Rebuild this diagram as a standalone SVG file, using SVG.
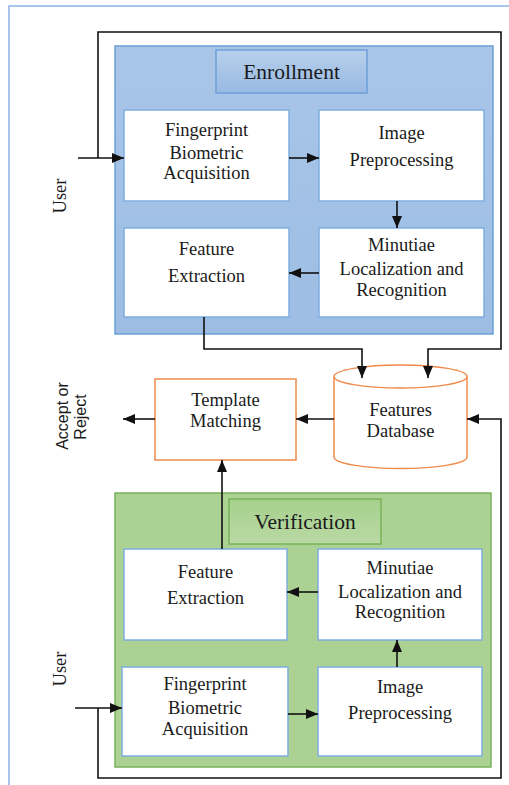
<svg xmlns="http://www.w3.org/2000/svg" width="509" height="785" viewBox="0 0 509 785">
<defs>
<linearGradient id="gBlueTitle" x1="0" y1="0" x2="0" y2="1"><stop offset="0" stop-color="#b7d0ec"/><stop offset="1" stop-color="#98b9e3"/></linearGradient>
<linearGradient id="gGreenTitle" x1="0" y1="0" x2="0" y2="1"><stop offset="0" stop-color="#a6cf8c"/><stop offset="1" stop-color="#b9daa5"/></linearGradient>
<linearGradient id="gBlue" x1="0" y1="0" x2="0" y2="1"><stop offset="0" stop-color="#a9c6e8"/><stop offset="1" stop-color="#9dbde4"/></linearGradient>
<marker id="ah" viewBox="0 0 12 12" refX="12" refY="6" markerWidth="12" markerHeight="12" markerUnits="userSpaceOnUse" orient="auto">
<path d="M0,1 L12,6 L0,11 Z" fill="#111"/>
</marker>
</defs>
<rect x="0" y="0" width="509" height="785" fill="#fff"/>
<rect x="9" y="6" width="520" height="800" fill="none" stroke="#8db3e2" stroke-width="1.5"/>

<g id="enrollment">
<rect x="115" y="46" width="378" height="288" fill="url(#gBlue)" stroke="#6d9fd8" stroke-width="1.5"/>
<rect x="216" y="50" width="151" height="43" fill="url(#gBlueTitle)" stroke="#6d9fd8" stroke-width="1.5"/>
<text x="291.5" y="79" style="font-family:'Liberation Serif',serif;font-size:21.5px" fill="#1a1a1a" text-anchor="middle">Enrollment</text>
</g>
<g id="e-acq" fill="#1a1a1a" text-anchor="middle">
<rect x="124" y="110" width="165" height="91" fill="#fff" stroke="#7eaee0" stroke-width="1.5"/>
<text x="206.5" y="136" style="font-family:'Liberation Serif',serif;font-size:18.5px">Fingerprint</text>
<text x="206.5" y="159" style="font-family:'Liberation Serif',serif;font-size:18.5px">Biometric</text>
<text x="206.5" y="179" style="font-family:'Liberation Serif',serif;font-size:18.5px">Acquisition</text>
</g>
<g id="e-pre" fill="#1a1a1a" text-anchor="middle">
<rect x="319" y="110" width="165" height="91" fill="#fff" stroke="#7eaee0" stroke-width="1.5"/>
<text x="401.5" y="139" style="font-family:'Liberation Serif',serif;font-size:18.5px">Image</text>
<text x="401.5" y="166" style="font-family:'Liberation Serif',serif;font-size:18.5px">Preprocessing</text>
</g>
<g id="e-feat" fill="#1a1a1a" text-anchor="middle">
<rect x="124" y="228" width="165" height="89" fill="#fff" stroke="#7eaee0" stroke-width="1.5"/>
<text x="206.5" y="255" style="font-family:'Liberation Serif',serif;font-size:18.5px">Feature</text>
<text x="206.5" y="282" style="font-family:'Liberation Serif',serif;font-size:18.5px">Extraction</text>
</g>
<g id="e-min" fill="#1a1a1a" text-anchor="middle">
<rect x="319" y="228" width="165" height="89" fill="#fff" stroke="#7eaee0" stroke-width="1.5"/>
<text x="401.5" y="251" style="font-family:'Liberation Serif',serif;font-size:18.5px">Minutiae</text>
<text x="401.5" y="275" style="font-family:'Liberation Serif',serif;font-size:18.5px">Localization and</text>
<text x="401.5" y="296" style="font-family:'Liberation Serif',serif;font-size:18.5px">Recognition</text>
</g>

<g id="database" fill="#1a1a1a" text-anchor="middle">
<path d="M334,376.5 L334,457 A66.5,11.5 0 0 0 467,457 L467,376.5" fill="#fff" stroke="#f08a4b" stroke-width="1.5"/>
<ellipse cx="400.5" cy="376.5" rx="66.5" ry="11.5" fill="#fff" stroke="#f08a4b" stroke-width="1.5"/>
<text x="400.5" y="416" style="font-family:'Liberation Serif',serif;font-size:18.5px">Features</text>
<text x="400.5" y="437" style="font-family:'Liberation Serif',serif;font-size:18.5px">Database</text>
</g>
<g id="template" fill="#1a1a1a" text-anchor="middle">
<rect x="155" y="379" width="141" height="81" fill="#fff" stroke="#f08a4b" stroke-width="1.5"/>
<text x="225.5" y="406" style="font-family:'Liberation Serif',serif;font-size:18.5px">Template</text>
<text x="225.5" y="427" style="font-family:'Liberation Serif',serif;font-size:18.5px">Matching</text>
</g>

<g id="verification">
<rect x="115" y="493" width="376" height="274" fill="#abd193" stroke="#78b35a" stroke-width="1.5"/>
<rect x="229" y="499" width="152" height="45" fill="url(#gGreenTitle)" stroke="#78b35a" stroke-width="1.5"/>
<text x="305" y="529" style="font-family:'Liberation Serif',serif;font-size:21.5px" fill="#1a1a1a" text-anchor="middle">Verification</text>
</g>
<g id="v-feat" fill="#1a1a1a" text-anchor="middle">
<rect x="124" y="549" width="163" height="91" fill="#fff" stroke="#7eaee0" stroke-width="1.5"/>
<text x="205.5" y="578" style="font-family:'Liberation Serif',serif;font-size:18.5px">Feature</text>
<text x="205.5" y="604" style="font-family:'Liberation Serif',serif;font-size:18.5px">Extraction</text>
</g>
<g id="v-min" fill="#1a1a1a" text-anchor="middle">
<rect x="318" y="549" width="164" height="91" fill="#fff" stroke="#7eaee0" stroke-width="1.5"/>
<text x="400" y="574" style="font-family:'Liberation Serif',serif;font-size:18.5px">Minutiae</text>
<text x="400" y="598" style="font-family:'Liberation Serif',serif;font-size:18.5px">Localization and</text>
<text x="400" y="618" style="font-family:'Liberation Serif',serif;font-size:18.5px">Recognition</text>
</g>
<g id="v-acq" fill="#1a1a1a" text-anchor="middle">
<rect x="122" y="667" width="166" height="89" fill="#fff" stroke="#7eaee0" stroke-width="1.5"/>
<text x="205" y="690" style="font-family:'Liberation Serif',serif;font-size:18.5px">Fingerprint</text>
<text x="205" y="714" style="font-family:'Liberation Serif',serif;font-size:18.5px">Biometric</text>
<text x="205" y="735" style="font-family:'Liberation Serif',serif;font-size:18.5px">Acquisition</text>
</g>
<g id="v-pre" fill="#1a1a1a" text-anchor="middle">
<rect x="318" y="667" width="164" height="89" fill="#fff" stroke="#7eaee0" stroke-width="1.5"/>
<text x="400" y="693" style="font-family:'Liberation Serif',serif;font-size:18.5px">Image</text>
<text x="400" y="719" style="font-family:'Liberation Serif',serif;font-size:18.5px">Preprocessing</text>
</g>

<g id="labels" fill="#1a1a1a" text-anchor="middle">
<text transform="translate(66,196) rotate(-90)" style="font-family:'Liberation Serif',serif;font-size:18.5px">User</text>
<text transform="translate(66,669) rotate(-90)" style="font-family:'Liberation Serif',serif;font-size:18.5px">User</text>
<text transform="translate(68,416) rotate(-90)" style="font-family:'Liberation Sans',sans-serif;font-size:16px">Accept or</text>
<text transform="translate(86,417) rotate(-90)" style="font-family:'Liberation Sans',sans-serif;font-size:16px">Reject</text>
</g>

<g id="connectors" fill="none" stroke="#111" stroke-width="1.6" marker-end="url(#ah)">
<path d="M98,158 L98,32 L501,32 L501,349 L428,349 L428,378"/>
<path d="M78,158 L124,158"/>
<path d="M289,158 L319,158"/>
<path d="M397,201 L397,228"/>
<path d="M319,273 L289,273"/>
<path d="M204,317 L204,349 L362,349 L362,378"/>
<path d="M334,419 L296,419"/>
<path d="M155,419 L123,419"/>
<path d="M222,549 L222,460"/>
<path d="M318,592 L287,592"/>
<path d="M397,667 L397,640"/>
<path d="M288,714 L318,714"/>
<path d="M75,708 L122,708"/>
<path d="M98,708 L98,778 L501,778 L501,419 L467,419"/>
</g>
</svg>
